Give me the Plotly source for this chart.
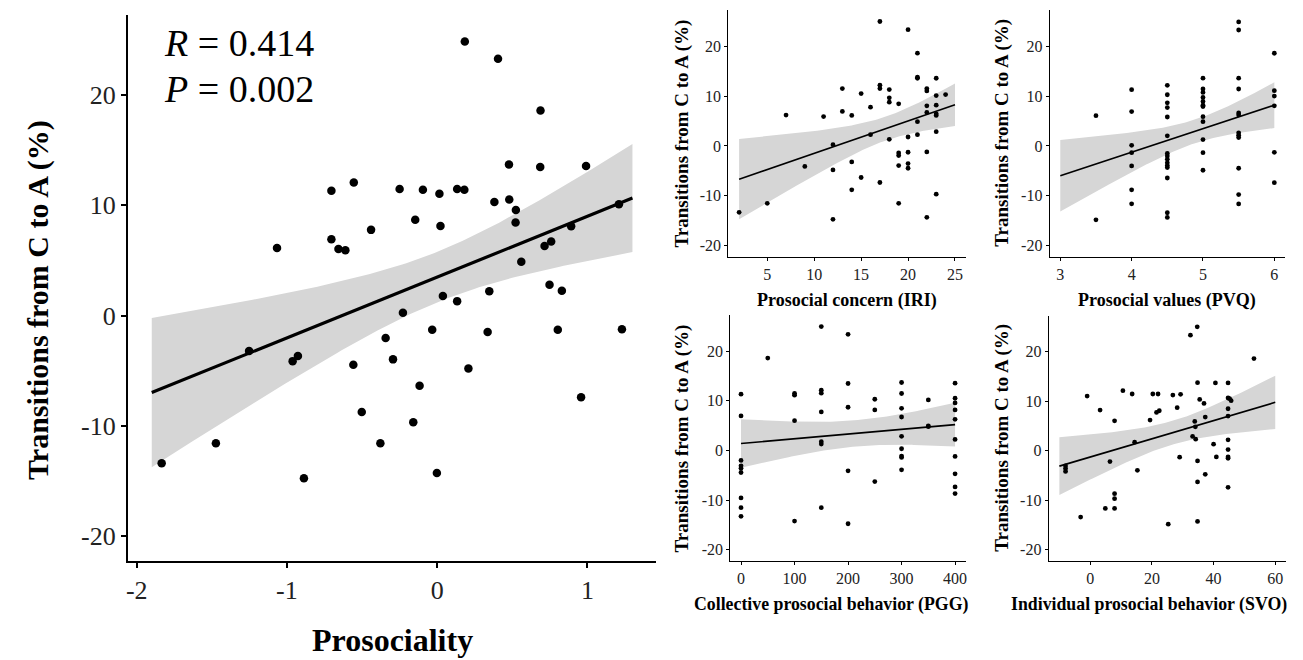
import numpy as np
import plotly.graph_objects as go

# ---------------- data ----------------
main_x = [0.184, 0.405, 0.688, 0.478, 0.686, 0.991, -0.25, -0.095, 0.015, 0.133, 0.181, 0.381, 0.48,
          0.524, 0.522, -0.146, 0.022, 1.21, 0.892, 0.715, 0.759, 0.56, 0.748, 0.83, 0.347, 0.038,
          0.133, -0.228, -0.343, -0.294, -0.033, 0.336, 0.803, 1.23, 0.208, -0.117, 0.958, -0.159,
          -0.002, -0.555, -0.704, -0.44, -1.066, -0.704, -0.657, -0.611, -1.252, -0.962, -0.927,
          -0.558, -0.502, -1.473, -0.378, -1.834, -0.887]
main_y = [24.85, 23.28, 18.59, 13.70, 13.48, 13.57, 11.48, 11.41, 11.05, 11.48, 11.41, 10.30, 10.52,
          9.57, 8.43, 8.69, 8.13, 10.1, 8.10, 6.30, 6.72, 4.89, 2.79, 2.26, 2.20, 1.77,
          1.31, 0.26, -2.03, -3.97, -1.28, -1.48, -1.28, -1.25, -4.79, -6.36, -7.41, -9.67,
          -14.28, 12.07, 11.31, 7.77, 6.13, 6.92, 6.03, 5.93, -3.21, -4.13, -3.67,
          -4.46, -8.75, -11.57, -11.57, -13.38, -14.75]

iri_x = [2, 5, 7, 9, 11, 12, 12, 12, 13, 13, 14, 14, 14, 15, 15, 16, 16, 17, 17, 17, 17,
         18, 18, 18, 18, 19, 19, 19, 19, 19, 20, 20, 20, 20, 20, 21, 21, 21, 21, 21,
         22, 22, 22, 22, 22, 22, 23, 23, 23, 23, 23, 23, 23, 24]
iri_y = [-13.3, -11.5, 6.19, -4.1, 5.9, 0.27, -4.8, -14.7, 11.5, 6.92, 6.12, -3.19, -8.78, 10.5, -6.32,
         7.78, 2.26, 24.95, 12.18, 11.5, -7.32, 11.3, 9.65, 8.78, 1.33, 8.45, -1.4, -1.93, -3.93, -11.5,
         23.3, 1.8, -1.26, -3.53, -4.46, 18.6, 13.77, 13.57, 4.86, 2.26, 11.5, 11.04, 8.05, 6.72, -1.2,
         -14.3, 13.57, 10.1, 8.18, 6.45, 6.12, 2.86, -9.65, 10.3]

pvq_x = [3.5, 3.5,
         4, 4, 4, 4, 4, 4, 4,
         4.5, 4.5, 4.5, 4.5, 4.5, 4.5, 4.5, 4.5, 4.5, 4.5, 4.5, 4.5, 4.5, 4.5, 4.5,
         5, 5, 5, 5, 5, 5, 5, 5, 5, 5, 5, 5,
         5.5, 5.5, 5.5, 5.5, 5.5, 5.5, 5.5, 5.5, 5.5, 5.5, 5.5, 5.5,
         6, 6, 6, 6, 6, 6]
pvq_y = [6.08, -14.8,
         11.28, 6.89, 0.14, -1.35, -3.99, -8.78, -11.6,
         12.16, 10.27, 8.65, 7.7, 5.81, 2.03, -1.49, -2.03, -2.64, -3.38, -3.92, -4.32, -6.42, -13.38, -14.32,
         13.58, 11.42, 10.74, 9.73, 8.92, 8.18, 7.9, 5.88, 4.86, 1.28, -1.35, -4.86,
         24.86, 23.24, 13.58, 11.42, 6.62, 6.22, 2.64, 2.16, 1.69, -4.46, -9.73, -11.62,
         18.58, 11.08, 10.0, 8.04, -1.28, -7.36]

pgg_x = [0, 0, 0, 0, 0, 0, 0, 0, 0,
         50,
         100, 100, 100, 100,
         150, 150, 150, 150, 150, 150, 150,
         200, 200, 200, 200, 200,
         250, 250, 250,
         300, 300, 300, 300, 300, 300, 300, 300, 300,
         350, 350, 350,
         400, 400, 400, 400, 400, 400, 400, 400, 400, 400]
pgg_y = [11.31, 6.94, -2.02, -3.1, -3.57, -4.44, -9.56, -11.52, -13.27,
         18.59,
         11.45, 11.11, 5.99, -14.21,
         24.92, 12.12, 11.52, 7.74, 1.75, 1.28, -11.52,
         23.37, 13.47, 8.69, -4.11, -14.75,
         10.3, 8.15, -6.26,
         13.67, 11.45, 8.48, 6.73, 2.83, 0.34, -1.14, -1.41, -3.9,
         10.17, 4.92, 4.78,
         13.54, 10.5, 9.56, 8.15, 6.26, 2.22, -1.21, -4.71, -7.34, -8.69]

svo_x = [-8, -8, -8, -1, 3.2, 6.4, 7.9, 7.9, 7.9, 7.9, 4.9, -3.1, 10.6, 13.6, 14.4, 15.3, 19.4,
         20.3, 21.5, 22.0, 22.4, 26.8, 29.3, 28.2, 29.0, 25.3,
         32.5, 34.7, 34.8, 33.2, 33.9, 34.1, 34.2, 34.8, 34.8, 34.8,
         35.5, 36.9, 37.3, 37.3, 40.0, 40.6, 40.9,
         44.7, 44.7, 44.7, 44.7, 44.7, 44.7, 44.7, 44.7, 44.7, 45.2, 45.7, 53.1]
svo_y = [-3.04, -3.58, -4.15, 11.08, 8.24, -2.16, 6.08, -8.65, -9.66, -11.62, -11.62, -13.38, 12.16,
         11.49, 1.76, -3.92, 6.22, 11.49, 7.77, 11.49, 8.11, 11.28, 11.42, 8.72, -1.28, -14.8,
         23.38, 25.07, 13.78, 2.91, 5.95, 4.86, 2.36, -2.03, -6.28, -14.26,
         10.4, 9.59, 6.82, -4.73, 1.35, 13.72, -1.22,
         13.72, 10.68, 8.51, 7.03, 2.23, 0.27, -1.22, -1.49, -7.36, 10.54, 10.14, 18.65]

y_limits = [-20, 25]
y_ticks = [-20, -10, 0, 10, 20]
y_ticklabels = ["-20", "-10", "0", "10", "20"]

y_title = "Transitions from C to A (%)"

# ---------------- styling / layout ----------------
W, H = 1303, 660
T_CRIT = 2.006
FONT = "Liberation Serif, Times New Roman, serif"
BAND = "rgb(214,214,214)"

panels = [
    dict(x=main_x, y=main_y, lim=[-1.9, 1.3], ticks=[-2, -1, 0, 1], labels=["-2", "-1", "0", "1"],
         box=(126, 656, 15, 561), xtitle="Prosociality", xt_x=391, xt_y=640, yt_x=36, yt_c=300,
         tick_font=26, title_font=32, ytitle_font=30, msize=8.5, lw=3.2, axw=1.6, ticklen=5),
    dict(x=iri_x, y=iri_y, lim=[2, 25], ticks=[5, 10, 15, 20, 25], labels=["5", "10", "15", "20", "25"],
         box=(728, 966, 10, 257), xtitle="Prosocial concern (IRI)", xt_x=847, xt_y=300, yt_x=682, yt_c=133,
         tick_font=16, title_font=18, ytitle_font=19, msize=4.8, lw=1.6, axw=1, ticklen=3),
    dict(x=pvq_x, y=pvq_y, lim=[3, 6], ticks=[3, 4, 5, 6], labels=["3", "4", "5", "6"],
         box=(1050, 1286, 10, 257), xtitle="Prosocial values (PVQ)", xt_x=1168, xt_y=300, yt_x=1002, yt_c=133,
         tick_font=16, title_font=18, ytitle_font=19, msize=4.8, lw=1.6, axw=1, ticklen=3),
    dict(x=pgg_x, y=pgg_y, lim=[0, 400], ticks=[0, 100, 200, 300, 400],
         labels=["0", "100", "200", "300", "400"],
         box=(730, 966, 315, 561), xtitle="Collective prosocial behavior (PGG)", xt_x=831, xt_y=604,
         yt_x=682, yt_c=438,
         tick_font=16, title_font=17.8, ytitle_font=19, msize=4.8, lw=1.6, axw=1, ticklen=3),
    dict(x=svo_x, y=svo_y, lim=[-10, 60], ticks=[0, 20, 40, 60], labels=["0", "20", "40", "60"],
         box=(1049, 1287, 316, 561), xtitle="Individual prosocial behavior (SVO)", xt_x=1150, xt_y=604,
         yt_x=1002, yt_c=438,
         tick_font=16, title_font=17.8, ytitle_font=19, msize=4.8, lw=1.6, axw=1, ticklen=3),
]


def fit_band(x, y, lo, hi, n=120):
    x = np.asarray(x, float)
    y = np.asarray(y, float)
    b, a = np.polyfit(x, y, 1)
    xs = np.linspace(lo, hi, n)
    yhat = a + b * xs
    resid = y - (a + b * x)
    s = np.sqrt(np.sum(resid ** 2) / (len(x) - 2))
    sxx = np.sum((x - x.mean()) ** 2)
    se = s * np.sqrt(1.0 / len(x) + (xs - x.mean()) ** 2 / sxx)
    return xs, yhat, yhat - T_CRIT * se, yhat + T_CRIT * se


def expand(lim):
    d = (lim[1] - lim[0]) * 0.05
    return [lim[0] - d, lim[1] + d]


fig = go.Figure()
layout = dict(width=W, height=H, margin=dict(l=0, r=0, t=0, b=0),
              paper_bgcolor="white", plot_bgcolor="white", showlegend=False,
              font=dict(family=FONT, color="black"))
annotations = []

for i, p in enumerate(panels):
    k = "" if i == 0 else str(i + 1)
    xa, ya = "x" + k, "y" + k
    xs, yh, lo, hi = fit_band(p["x"], p["y"], p["lim"][0], p["lim"][1])
    fig.add_trace(go.Scatter(x=np.concatenate([xs, xs[::-1]]), y=np.concatenate([hi, lo[::-1]]),
                             fill="toself", fillcolor=BAND, line=dict(width=0), mode="lines",
                             hoverinfo="skip", xaxis=xa, yaxis=ya))
    fig.add_trace(go.Scatter(x=p["x"], y=p["y"], mode="markers",
                             marker=dict(color="black", size=p["msize"]), xaxis=xa, yaxis=ya))
    fig.add_trace(go.Scatter(x=xs, y=yh, mode="lines", line=dict(color="black", width=p["lw"]),
                             xaxis=xa, yaxis=ya))
    x0, x1, top, bot = p["box"]
    common = dict(showgrid=False, zeroline=False, showline=True, linecolor="black",
                  linewidth=p["axw"], ticks="outside", ticklen=p["ticklen"], tickwidth=p["axw"],
                  tickcolor="black", tickfont=dict(family=FONT, size=p["tick_font"], color="#222"))
    layout["xaxis" + k] = dict(domain=[x0 / W, x1 / W], range=expand(p["lim"]),
                               tickmode="array", tickvals=p["ticks"], ticktext=p["labels"],
                               anchor=ya, **common)
    layout["yaxis" + k] = dict(domain=[1 - bot / H, 1 - top / H], range=expand(y_limits),
                               tickmode="array", tickvals=y_ticks, ticktext=y_ticklabels,
                               anchor=xa, **common)
    annotations.append(dict(text="<b>" + p["xtitle"] + "</b>", xref="paper", yref="paper",
                            x=p["xt_x"] / W, y=1 - p["xt_y"] / H, showarrow=False,
                            xanchor="center", yanchor="middle",
                            font=dict(family=FONT, size=p["title_font"], color="black")))
    annotations.append(dict(text="<b>" + y_title + "</b>", xref="paper", yref="paper",
                            x=p["yt_x"] / W, y=1 - p["yt_c"] / H, showarrow=False, textangle=-90,
                            xanchor="center", yanchor="middle",
                            font=dict(family=FONT, size=p["ytitle_font"], color="black")))

# statistics text in main panel
annotations.append(dict(text="<i>R</i> = 0.414", xref="paper", yref="paper", x=160 / W, y=1 - 43 / H,
                        showarrow=False, xanchor="left", yanchor="middle",
                        font=dict(family=FONT, size=38, color="black")))
annotations.append(dict(text="<i>P</i> = 0.002", xref="paper", yref="paper", x=160 / W, y=1 - 89 / H,
                        showarrow=False, xanchor="left", yanchor="middle",
                        font=dict(family=FONT, size=38, color="black")))

layout["annotations"] = annotations
fig.update_layout(**layout)
fig.write_html("out.html", config={"displayModeBar": False},
               post_script="document.body.style.margin='0px';document.body.style.overflow='hidden';")
